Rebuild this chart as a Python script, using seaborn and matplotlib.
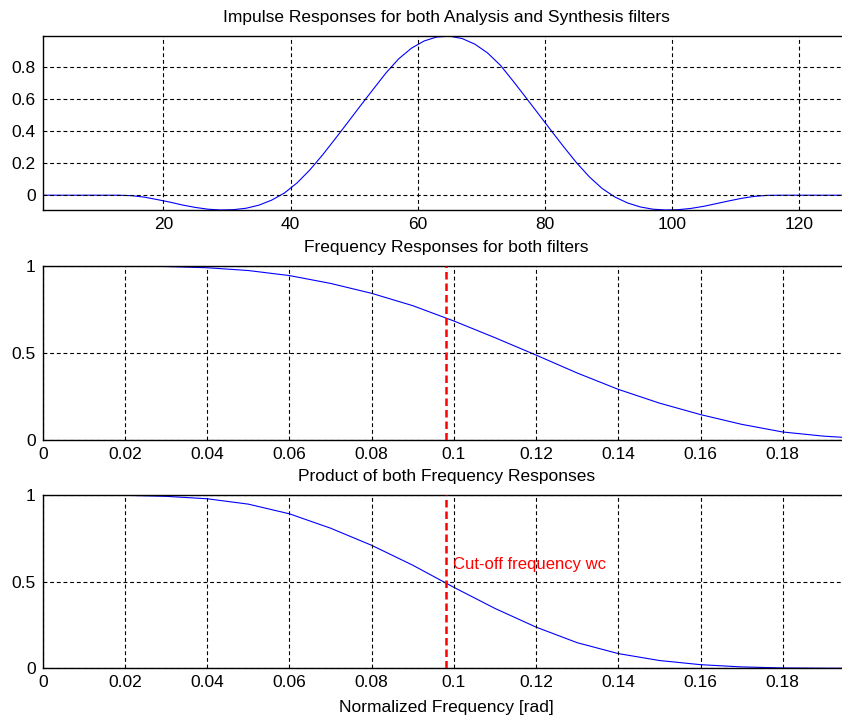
import numpy as np
import pandas as pd
import matplotlib
matplotlib.use("Agg")
import matplotlib.pyplot as plt
import seaborn as sns

# ---------------- data ----------------
n_samples = [1, 3, 5, 7, 9, 11, 13, 15, 17, 19, 21, 23, 25, 27, 29, 31, 33, 35, 37, 39,
             41, 43, 45, 47, 49, 51, 53, 55, 57, 59, 61, 63, 65, 67, 69, 71, 73, 75, 77, 79,
             81, 83, 85, 87, 89, 91, 93, 95, 97, 99, 101, 103, 105, 107, 109, 111, 113, 115,
             117, 119, 121, 123, 125, 127, 128]
impulse = [0, 0, 0, 0, 0, 0, 0, -0.003, -0.012, -0.027, -0.043, -0.061, -0.076, -0.087, -0.092,
           -0.090, -0.081, -0.062, -0.031, 0.013, 0.076, 0.156, 0.249, 0.350, 0.453, 0.557,
           0.659, 0.760, 0.848, 0.914, 0.959, 0.984, 0.989, 0.974, 0.939, 0.884, 0.808, 0.710,
           0.608, 0.505, 0.401, 0.299, 0.201, 0.114, 0.042, -0.011, -0.048, -0.073, -0.087,
           -0.092, -0.090, -0.082, -0.069, -0.052, -0.035, -0.019, -0.007, -0.001,
           0, 0, 0, 0, 0, 0, 0]

freq = [0.0, 0.01, 0.02, 0.03, 0.04, 0.05, 0.06, 0.07, 0.08, 0.09, 0.10, 0.11, 0.12, 0.13,
        0.14, 0.15, 0.16, 0.17, 0.18, 0.19, 0.19635]
freq_resp = [1.0, 1.0, 1.0, 0.997, 0.990, 0.974, 0.945, 0.900, 0.843, 0.772, 0.684, 0.588,
             0.488, 0.385, 0.291, 0.212, 0.146, 0.090, 0.046, 0.022, 0.013]
product_resp = [1.0, 1.0, 1.0, 0.994, 0.980, 0.949, 0.893, 0.810, 0.711, 0.596, 0.468, 0.346,
                0.238, 0.148, 0.085, 0.045, 0.021, 0.008, 0.002, 0.0005, 0.0002]
wc = 0.0982  # cut-off frequency

titles = ["Impulse Responses for both Analysis and Synthesis filters",
          "Frequency Responses for both filters",
          "Product of both Frequency Responses"]
xlabel_bottom = "Normalized Frequency [rad]"
cutoff_label = "Cut-off frequency wc"

# ---------------- style ----------------
sns.set_style("white")
plt.rcParams["font.family"] = ["Liberation Sans", "DejaVu Sans"]
FS = 12.5

fig = plt.figure(figsize=(8.42, 7.17), dpi=100)
W, H = 842.0, 717.0
left = 42.7 / W
width = (850.0 - 42.7) / W
ax1 = fig.add_axes([left, 1 - 210.0 / H, width, 174.0 / H])
ax2 = fig.add_axes([left, 1 - 440.0 / H, width, 174.0 / H])
ax3 = fig.add_axes([left, 1 - 668.3 / H, width, 173.0 / H])

grid_kw = dict(color="black", linestyle=(0, (3.5, 2.5)), linewidth=0.8)

df1 = pd.DataFrame({"n": n_samples, "h": impulse})
df2 = pd.DataFrame({"w": freq, "H": freq_resp})
df3 = pd.DataFrame({"w": freq, "P": product_resp})

sns.lineplot(data=df1, x="n", y="h", ax=ax1, color=(0, 0, 1), linewidth=0.8)
sns.lineplot(data=df2, x="w", y="H", ax=ax2, color=(0, 0, 1), linewidth=0.8)
sns.lineplot(data=df3, x="w", y="P", ax=ax3, color=(0, 0, 1), linewidth=0.8)

ax1.set_xlim(1, 128)
ax1.set_ylim(-0.092, 0.99)
ax1.set_xticks([20, 40, 60, 80, 100, 120])
ax1.set_yticks([0, 0.2, 0.4, 0.6, 0.8])
ax1.set_yticklabels(["0", "0.2", "0.4", "0.6", "0.8"])

for ax in (ax2, ax3):
    ax.set_xlim(0, 0.19635)
    ax.set_ylim(0, 1)
    ax.set_xticks([0, 0.02, 0.04, 0.06, 0.08, 0.1, 0.12, 0.14, 0.16, 0.18])
    ax.set_xticklabels(["0", "0.02", "0.04", "0.06", "0.08", "0.1", "0.12", "0.14", "0.16", "0.18"])
    ax.set_yticks([0, 0.5, 1])
    ax.set_yticklabels(["0", "0.5", "1"])
    ax.axvline(wc, color="red", linestyle=(0, (3, 1.6)), linewidth=1.8, zorder=3)

ax3.text(wc + 0.0016, 0.6, cutoff_label, color="red", fontsize=12, va="center", ha="left")

for ax, t in zip((ax1, ax2, ax3), titles):
    ax.set_title(t, fontsize=FS, pad=10, color="black")
    ax.set_xlabel("")
    ax.set_ylabel("")
    ax.grid(True, **grid_kw)
    ax.set_axisbelow(False)
    ax.tick_params(direction="in", length=4, width=0.8, labelsize=FS, pad=5, colors="black")
    for s in ax.spines.values():
        s.set_visible(True)
        s.set_color("black")
        s.set_linewidth(1.0)

ax3.set_xlabel(xlabel_bottom, fontsize=FS, labelpad=7, color="black")

fig.savefig("out.png", dpi=100, facecolor="white")
